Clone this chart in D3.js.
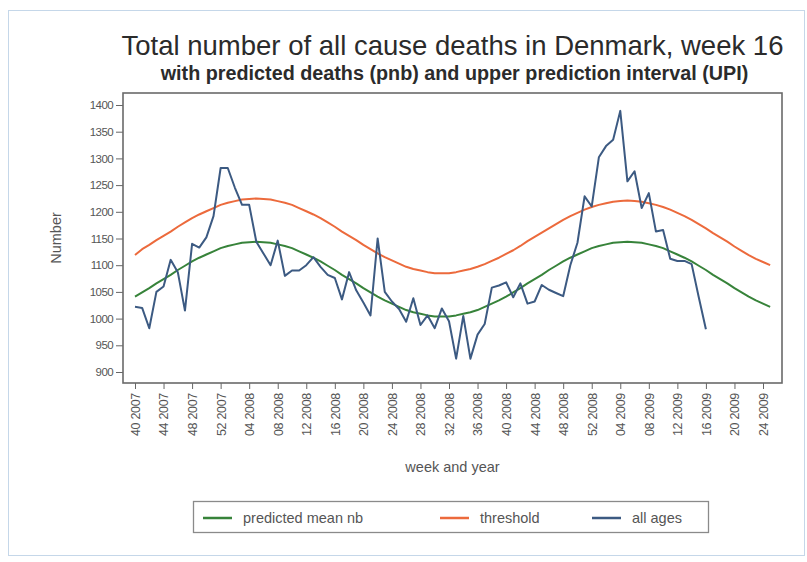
<!DOCTYPE html>
<html>
<head>
<meta charset="utf-8">
<script src="https://cdn.jsdelivr.net/npm/d3@7"></script>
<style>
  html, body { margin: 0; padding: 0; background: #fff; }
  svg { display: block; }
  text { font-family: "Liberation Sans", Arial, sans-serif; }
</style>
</head>
<body>
<svg id="chart" width="807" height="562"></svg>
<script>
// Tick labels on the week axis (every 4th week, starting at week 40 2007)
const weekLabels = ["40 2007","44 2007","48 2007","52 2007",
  "04 2008","08 2008","12 2008","16 2008","20 2008","24 2008","28 2008","32 2008",
  "36 2008","40 2008","44 2008","48 2008","52 2008",
  "04 2009","08 2009","12 2009","16 2009","20 2009","24 2009"];

const yTicks = [900, 950, 1000, 1050, 1100, 1150, 1200, 1250, 1300, 1350, 1400];

// Weekly observed deaths, all ages (week 40 2007 .. week 16 2009)
const allAges = [
  1022, 1020, 982, 1050, 1060, 1110, 1087, 1015, 1140, 1133,
  1152, 1192, 1282, 1282, 1245, 1213, 1213, 1144, 1122, 1100,
  1146, 1080, 1090, 1090, 1100, 1115, 1097, 1082, 1076, 1036,
  1087, 1053, 1030, 1006, 1150, 1050, 1032, 1018, 994, 1038,
  988, 1006, 982, 1019, 995, 925, 1005, 925, 970, 990,
  1058, 1062, 1068, 1040, 1066, 1028, 1032, 1063, 1054, 1048,
  1042, 1100, 1142, 1229, 1210, 1302, 1323, 1335, 1389, 1257,
  1276, 1207, 1235, 1163, 1166, 1112, 1108, 1108, 1102, 1040,
  980];

// Predicted mean number of deaths (week 40 2007 .. week 25 2009)
const predictedMean = [
  1041, 1049, 1057, 1066, 1074, 1082, 1091, 1099, 1107, 1114,
  1120, 1126, 1132, 1136, 1139, 1142, 1143, 1144, 1143, 1142,
  1139, 1136, 1132, 1126, 1120, 1114, 1107, 1099, 1091, 1082,
  1074, 1066, 1057, 1049, 1041, 1034, 1028, 1022, 1016, 1012,
  1009, 1006, 1004, 1004, 1004, 1006, 1009, 1012, 1016, 1022,
  1028, 1034, 1041, 1049, 1057, 1066, 1074, 1082, 1091, 1099,
  1107, 1114, 1120, 1126, 1132, 1136, 1139, 1142, 1143, 1144,
  1143, 1142, 1139, 1136, 1132, 1126, 1120, 1114, 1107, 1099,
  1091, 1082, 1074, 1066, 1057, 1049, 1041, 1034, 1028, 1022];

// Upper prediction interval (threshold)
const threshold = [
  1119, 1130, 1138, 1147, 1155, 1163, 1172, 1180, 1188, 1195,
  1201, 1207, 1213, 1217, 1220, 1223, 1224, 1225, 1224, 1223,
  1220, 1217, 1213, 1207, 1201, 1195, 1188, 1180, 1172, 1163,
  1155, 1147, 1138, 1130, 1122, 1115, 1109, 1103, 1097, 1093,
  1090, 1087, 1085, 1085, 1085, 1087, 1090, 1093, 1097, 1102,
  1108, 1114, 1121, 1128, 1136, 1145, 1153, 1161, 1169, 1177,
  1185, 1192, 1198, 1204, 1209, 1213, 1216, 1219, 1220, 1221,
  1220, 1219, 1216, 1213, 1209, 1204, 1198, 1192, 1185, 1177,
  1169, 1160, 1152, 1144, 1135, 1127, 1119, 1112, 1106, 1100];

const seriesNames = ["predicted mean nb", "threshold", "all ages"];
const seriesColors = ["#37833a", "#ec6a3c", "#3c5a82"];

const svg = d3.select("#chart");

// outer dotted frame
svg.append("rect")
  .attr("x", 8.5).attr("y", 10.5).attr("width", 796).attr("height", 545)
  .attr("fill", "none").attr("stroke", "#8aaed2").attr("stroke-width", 1)
  .attr("stroke-dasharray", "1,1");

const plot = { left: 123, right: 782, top: 93, bottom: 383 };

const x = d3.scaleLinear().domain([0, 88]).range([135, 763]);
const y = d3.scaleLinear().domain([900, 1400]).range([372, 105]);

function fitWidth(sel, width) {
  const fs = parseFloat(sel.attr("font-size"));
  const w = sel.node().getComputedTextLength();
  sel.attr("font-size", (fs * width / w).toFixed(2));
}

// titles
const cx = (plot.left + plot.right) / 2;
const t1 = svg.append("text")
  .attr("x", cx).attr("y", 55).attr("text-anchor", "middle")
  .attr("font-size", 22).attr("fill", "#2b2b2b")
  .text("Total number of all cause deaths in Denmark, week 16");
fitWidth(t1, 662);
const t2 = svg.append("text")
  .attr("x", cx + 2).attr("y", 80).attr("text-anchor", "middle")
  .attr("font-size", 14).attr("font-weight", "bold").attr("fill", "#2b2b2b")
  .text("with predicted deaths (pnb) and upper prediction interval (UPI)");
fitWidth(t2, 588);

// y axis
const yAxis = d3.axisLeft(y).tickValues(yTicks).tickFormat(d3.format("d"))
  .tickSize(7).tickPadding(3);
const gy = svg.append("g").attr("transform", `translate(${plot.left},0)`).call(yAxis);
gy.select(".domain").remove();
gy.selectAll(".tick line").attr("stroke", "#666");
gy.selectAll(".tick text").attr("font-size", 11.5).attr("fill", "#555")
  .attr("font-family", "'Liberation Sans', Arial, sans-serif")
  .attr("letter-spacing", "-0.6px");

// x axis
const tickIdx = weekLabels.map((_, i) => i * 4);
const xAxis = d3.axisBottom(x).tickValues(tickIdx)
  .tickFormat((d, i) => weekLabels[i]).tickSize(6).tickPadding(3);
const gx = svg.append("g").attr("transform", `translate(0,${plot.bottom})`).call(xAxis);
gx.select(".domain").remove();
gx.selectAll(".tick line").attr("stroke", "#666");
gx.selectAll(".tick text")
  .attr("font-size", 12.5).attr("fill", "#555")
  .attr("font-family", "'Liberation Sans', Arial, sans-serif")
  .attr("letter-spacing", "-0.3px")
  .attr("text-anchor", "end")
  .attr("dy", "0.35em")
  .attr("transform", "translate(0,10) rotate(-90)")
  .attr("x", 0).attr("y", 0);

// axis titles
svg.append("text")
  .attr("transform", `translate(61,${(plot.top + plot.bottom) / 2}) rotate(-90)`)
  .attr("text-anchor", "middle").attr("font-size", 14.5).attr("fill", "#555")
  .text("Number");
svg.append("text")
  .attr("x", cx).attr("y", 472).attr("text-anchor", "middle")
  .attr("font-size", 14.5).attr("fill", "#555")
  .text("week and year");

// series lines
const line = d3.line().x((d, i) => x(i)).y(d => y(d)).curve(d3.curveLinear);
svg.append("clipPath").attr("id", "plotclip")
  .append("rect").attr("x", plot.left).attr("y", plot.top)
  .attr("width", plot.right - plot.left).attr("height", plot.bottom - plot.top);

const lines = svg.append("g").attr("clip-path", "url(#plotclip)");
[predictedMean, threshold, allAges].forEach((s, k) => {
  lines.append("path").datum(s)
    .attr("d", line).attr("fill", "none")
    .attr("stroke", seriesColors[k]).attr("stroke-width", 2)
    .attr("stroke-linejoin", "round");
});

// plot frame
svg.append("rect")
  .attr("x", plot.left).attr("y", plot.top)
  .attr("width", plot.right - plot.left).attr("height", plot.bottom - plot.top)
  .attr("fill", "none").attr("stroke", "#6a6a6a").attr("stroke-width", 1.6);

// legend
const lg = svg.append("g");
lg.append("rect").attr("x", 193.5).attr("y", 501.5).attr("width", 515).attr("height", 31)
  .attr("fill", "#fff").attr("stroke", "#8a8a8a").attr("stroke-width", 1.3);
const legendX = [203, 440, 592];
seriesNames.forEach((name, k) => {
  lg.append("line").attr("x1", legendX[k]).attr("x2", legendX[k] + 29)
    .attr("y1", 518).attr("y2", 518)
    .attr("stroke", seriesColors[k]).attr("stroke-width", 2.5);
  lg.append("text").attr("x", legendX[k] + 40).attr("y", 523)
    .attr("font-size", 14.5).attr("fill", "#555").text(name);
});
</script>
</body>
</html>
